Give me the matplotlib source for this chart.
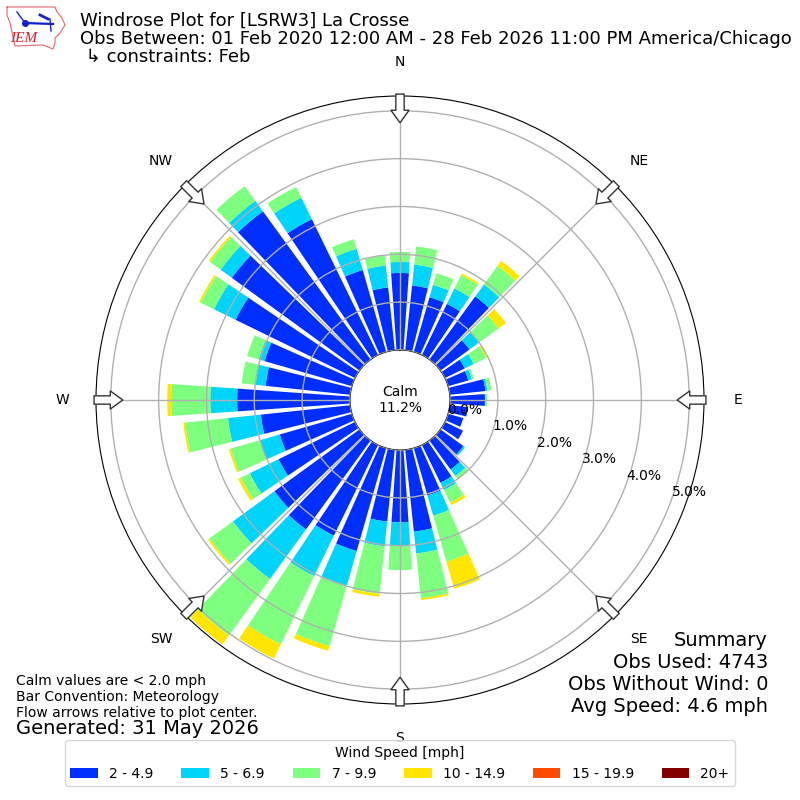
import numpy as np
import matplotlib
matplotlib.use("Agg")
import matplotlib.pyplot as plt


# ---------------------------------------------------
# Data, percent of observations per direction bin
# ---------------------------------------------------

directions = np.arange(0, 360, 10)

speed_2_5 = [1.61, 1.36, 1.19, 1.19, 1.63, 0.75, 0.46, 0.44, 0.75, 0.73, 0.38, 0.33,
             0.42, 0.59, 0.75, 0.88, 1.03, 1.72, 1.51, 1.51, 2.24, 2.11, 2.30, 2.20,
             1.78, 1.57, 1.88, 2.36, 1.78, 1.90, 2.78, 3.30, 3.83, 3.16, 1.78, 1.32]
speed_5_7 = [0.23, 0.44, 0.27, 0.36, 0.31, 0.25, 0.21, 0.08, 0.04, 0.01, 0.0, 0.0,
             0.0, 0.04, 0.17, 0.17, 0.44, 0.46, 0.48, 0.52, 0.75, 0.94, 1.28, 1.07,
             0.67, 0.44, 0.69, 0.56, 0.21, 0.13, 0.50, 0.29, 0.27, 0.50, 0.46, 0.46]
speed_7_10 = [0.21, 0.38, 0.25, 0.31, 0.48, 0.50, 0.29, 0.04, 0.08, 0.04, 0.0, 0.0,
              0.0, 0.0, 0.08, 0.29, 1.00, 0.94, 0.52, 1.00, 1.32, 1.59, 1.46, 0.61,
              0.21, 0.63, 0.90, 0.82, 0.29, 0.25, 0.31, 0.27, 0.38, 0.25, 0.21, 0.21]
speed_10_15 = [0.0, 0.0, 0.0, 0.04, 0.13, 0.19, 0.04, 0.0, 0.0, 0.0, 0.0, 0.0,
               0.0, 0.0, 0.0, 0.06, 0.59, 0.04, 0.0, 0.06, 0.10, 0.33, 0.23, 0.04,
               0.06, 0.04, 0.04, 0.08, 0.0, 0.0, 0.04, 0.04, 0.0, 0.0, 0.0, 0.0]
speed_15_20 = [0.0] * 36
speed_20_up = [0.0] * 36

speed_bins = [speed_2_5, speed_5_7, speed_7_10, speed_10_15, speed_15_20, speed_20_up]
speed_labels = ["2 - 4.9", "5 - 6.9", "7 - 9.9", "10 - 14.9", "15 - 19.9", "20+"]
speed_colors = ["#002eff", "#00d4fa", "#7fff7f", "#ffe600", "#ff4a00", "#800000"]

compass_angles = [0, 45, 90, 135, 180, 225, 270, 315]
compass_labels = ["N", "NE", "E", "SE", "S", "SW", "W", "NW"]
radial_ticks = [0, 1, 2, 3, 4, 5]

calm_percent = 11.2


# ---------------------------------------------------
# Wind rose
# ---------------------------------------------------

fig = plt.figure(figsize=(8, 8), dpi=100)
ax = fig.add_axes([0.12, 0.12, 0.76, 0.76], projection="polar")
ax.set_theta_zero_location("N")
ax.set_theta_direction(-1)

theta = np.radians(directions)
bottom = np.zeros(len(directions))
handles = []
for values, label, color in zip(speed_bins, speed_labels, speed_colors):
    bars = ax.bar(theta, values, width=np.radians(8), bottom=bottom,
                  color=color, linewidth=0, label=label, zorder=2)
    handles.append(bars)
    bottom = bottom + np.asarray(values)

ax.set_rlim(0, 5.31)
ax.set_rorigin(-1.046)
ax.set_thetagrids(compass_angles, compass_labels)
ax.tick_params(axis="x", pad=14)
ax.set_yticks(radial_ticks)
ax.set_yticklabels([f"{t:.1f}%" for t in radial_ticks], ha="left", va="bottom")
ax.set_rlabel_position(110)
ax.grid(True, color="#b0b0b0", linewidth=1)
ax.set_axisbelow(False)

# flow arrows pointing in from the rim
for angle in compass_angles:
    ax.annotate(
        "",
        xy=(np.radians(angle), 4.75),
        xytext=(np.radians(angle), 5.35),
        arrowprops=dict(
            arrowstyle="simple,head_length=9,head_width=13,tail_width=6",
            mutation_scale=1,
            facecolor="white",
            edgecolor="#333333",
            linewidth=1,
            shrinkA=0,
            shrinkB=0,
        ),
        annotation_clip=False,
        zorder=5,
    )

fig.text(0.5, 0.5, f"Calm\n{calm_percent}%", ha="center", va="center", fontsize=10)


# ---------------------------------------------------
# Text around the plot
# ---------------------------------------------------

fig.text(
    80 / 800, 1 - 12 / 800,
    "Windrose Plot for [LSRW3] La Crosse\n"
    "Obs Between: 01 Feb 2020 12:00 AM - 28 Feb 2026 11:00 PM America/Chicago\n"
    " \u21b3 constraints: Feb",
    ha="left", va="top", fontsize=13, linespacing=1.0,
)

fig.text(
    768 / 800, 1 - 716 / 800,
    "Summary\nObs Used: 4743\nObs Without Wind: 0\nAvg Speed: 4.6 mph",
    ha="right", va="bottom", fontsize=14,
)

fig.text(
    16 / 800, 1 - 720 / 800,
    "Calm values are < 2.0 mph\nBar Convention: Meteorology\n"
    "Flow arrows relative to plot center.",
    ha="left", va="bottom", fontsize=10,
)
fig.text(16 / 800, 1 - 738 / 800, "Generated: 31 May 2026", ha="left", va="bottom", fontsize=14)

fig.legend(
    handles=handles,
    title="Wind Speed [mph]",
    loc="lower center",
    bbox_to_anchor=(0.5, 1 - 793 / 800),
    ncol=6,
    fontsize=10,
    title_fontsize=10,
)


# ---------------------------------------------------
# IEM logo, rough redraw
# ---------------------------------------------------

logo = fig.add_axes([0, 1 - 52 / 800, 70 / 800, 52 / 800])
logo.set_xlim(0, 70)
logo.set_ylim(52, 0)
logo.axis("off")

outline_x = [7, 55, 57, 62, 65, 60, 55, 55, 53, 43, 15, 13, 10, 7, 7]
outline_y = [7, 7, 12, 18, 25, 33, 38, 43, 49, 45, 46, 37, 23, 15, 7]
logo.plot(outline_x, outline_y, color="#e8666a", linewidth=0.8)
logo.plot([25, 53], [23, 24], color="#1420d0", linewidth=1.6)
logo.plot([17, 25], [12, 23], color="#1420d0", linewidth=1.0)
logo.plot([40, 48], [15, 19], color="#1420d0", linewidth=2.0)
logo.plot([50, 51], [19, 31], color="#1420d0", linewidth=1.0)
logo.plot([25], [23], "o", color="#1420d0", markersize=4)
logo.text(24, 38, "IEM", color="#d81e28", fontsize=11, family="Liberation Serif",
          style="italic", ha="center", va="center")

fig.savefig("out.png", dpi=100)
